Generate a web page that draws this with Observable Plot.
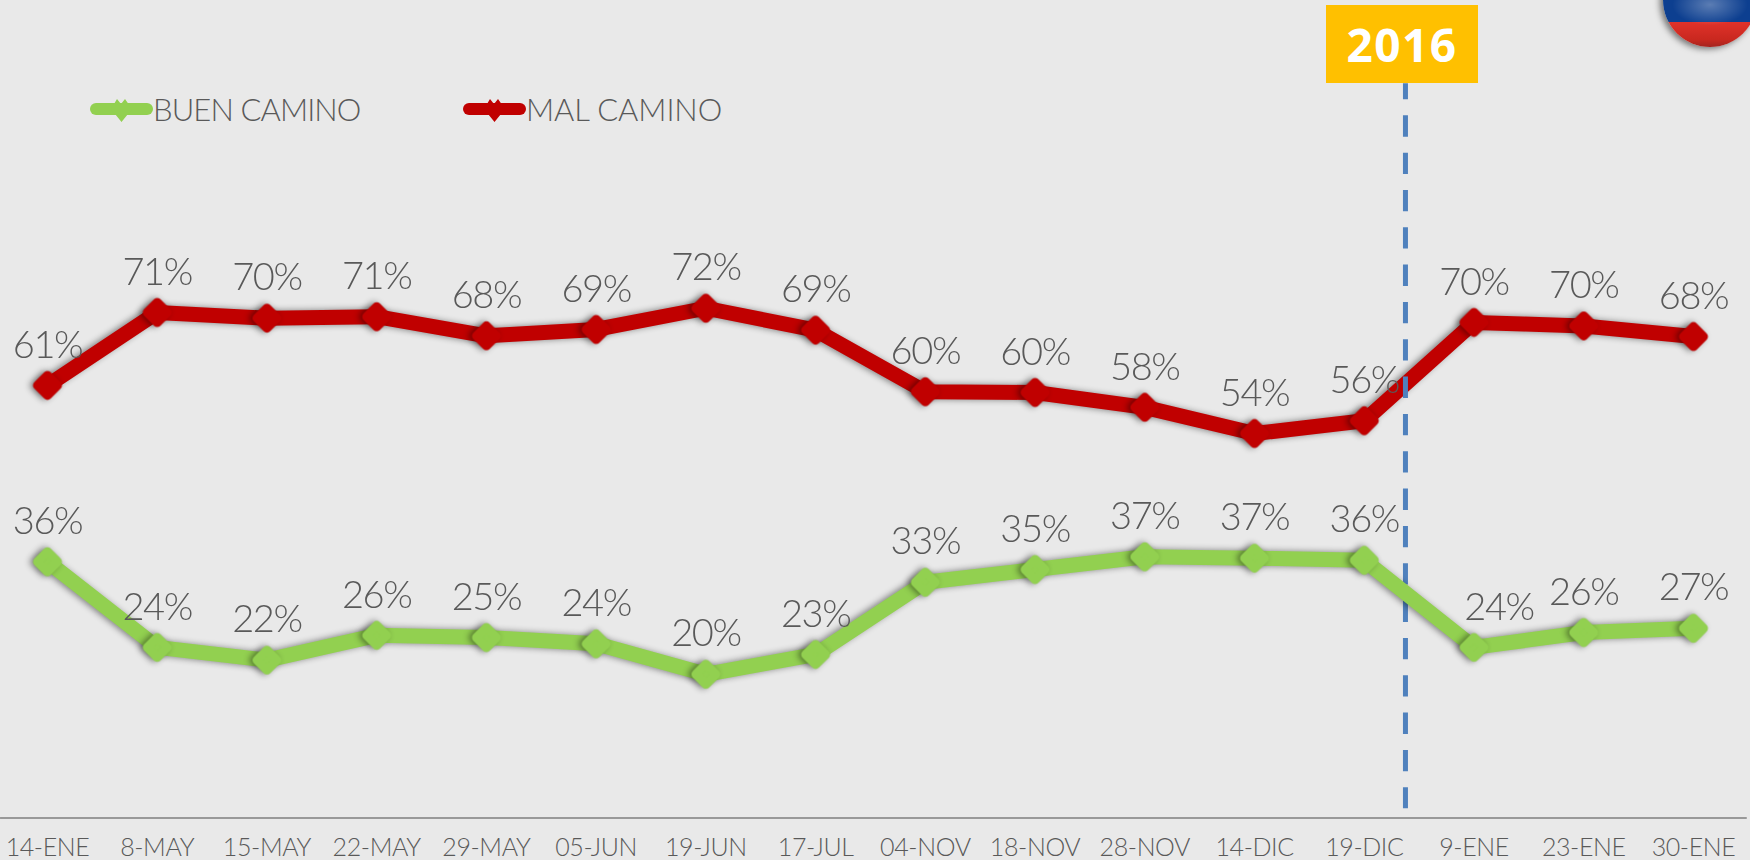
<!DOCTYPE html>
<html><head><meta charset="utf-8">
<script src="https://cdn.jsdelivr.net/npm/d3@7"></script>
<script src="https://cdn.jsdelivr.net/npm/@observablehq/plot@0.6"></script>
<style>
html,body{margin:0;padding:0;background:#e9e9e9;width:1750px;height:860px;overflow:hidden}
#wrap{position:relative;width:1750px;height:860px}
#wrap svg.sw{display:block}
#wrap>svg{position:absolute;left:0;top:0;background:transparent;font-family:Lato}
g[aria-label="line"],g[aria-label="dot"]{filter:drop-shadow(-3px 0px 3px rgba(0,0,0,.45))}
g[aria-label="text"]{letter-spacing:-1.4px}
g[aria-label="x-axis tick label"]{letter-spacing:-.4px}
.leg{position:absolute;top:91px;height:36px;font:300 31px/36px Lato;color:#595959;white-space:nowrap}
.leg svg{position:absolute;left:-63px;top:0}
#badge{position:absolute;left:1326px;top:5px;width:152px;height:78px;background:#ffc000;color:#fff;font:700 46px/78px "Open Sans";letter-spacing:1.5px;text-align:center}
#flag{position:absolute;left:1663px;top:-47px;width:94px;height:94px;border-radius:50%;overflow:hidden;box-shadow:-3px 2px 6px rgba(0,0,0,.5)}
</style></head><body>
<div id="wrap"></div>
<script>
const fechas = ["14-ENE","8-MAY","15-MAY","22-MAY","29-MAY","05-JUN","19-JUN","17-JUL","04-NOV","18-NOV","28-NOV","14-DIC","19-DIC","9-ENE","23-ENE","30-ENE"];
const malCamino = [61.1,71.4,70.6,70.8,68.1,69.0,72.0,68.9,60.2,60.1,58.0,54.3,56.1,70.0,69.5,68.0];
const buenCamino = [36.2,24.1,22.3,25.8,25.5,24.6,20.3,23.1,33.3,35.1,36.9,36.7,36.4,24.1,26.2,26.8];
const malEtiquetas = [61,71,70,71,68,69,72,69,60,60,58,54,56,70,70,68];
const buenEtiquetas = [36,24,22,26,25,24,20,23,33,35,37,37,36,24,26,27];
const VERDE = "#92d050", ROJO = "#c00000", GRIS = "#595959";

const rows = (vals, labs) => vals.map((v,i)=>({i, v, lab: labs[i]+"%"}));
const mal = rows(malCamino, malEtiquetas), buen = rows(buenCamino, buenEtiquetas);
const idx = d3.range(fechas.length);
const serie = (data,color) => [
  Plot.line(data,{x:"i",y:"v",stroke:color,strokeWidth:15,strokeLinejoin:"round"}),
  Plot.dot(data,{x:"i",y:"v",symbol:"diamond2",r:9,fill:color,stroke:color,strokeWidth:9,strokeLinejoin:"round"})
];
const etq = {x:"i",y:"v",text:"lab",dy:-40,fontSize:38,fontWeight:300,fill:GRIS,fontFamily:"Lato"};

const chart = Plot.plot({
  width:1750,height:860,margin:0,
  x:{type:"linear",domain:[0,15],range:[47,1693],axis:null},
  y:{domain:[0,100],range:[817.5,109.5],axis:null},
  marks:[
    Plot.ruleY([0],{x1:-0.428,x2:15.49,stroke:"#999",strokeWidth:2}),
    ...serie(mal,ROJO),
    Plot.ruleX([12.375],{y1:103.7,y2:1.3,stroke:"#4f81bd",strokeWidth:5,strokeDasharray:"21.33,16",strokeDashoffset:5.33}),
    ...serie(buen,VERDE),
    Plot.text(mal,etq),
    Plot.text(buen.filter(d=>d.i!==13),etq),
    Plot.text(buen.filter(d=>d.i===13),{...etq,dx:25}),
    Plot.axisX({ticks:idx,tickFormat:i=>fechas[i],tickSize:0,tickPadding:20,fontSize:25,fontWeight:300,fill:GRIS,anchor:"bottom",label:null,y:0,fontFamily:"Lato"})
  ]
});
const wrap = document.getElementById("wrap");
wrap.appendChild(chart);
const legend = (txt,color,left,sp)=>{
  const d=document.createElement("div");d.className="leg";d.style.left=left+"px";d.style.letterSpacing=sp;
  d.innerHTML=`<svg class="sw" width="63" height="36"><rect x="0" y="12" width="63" height="12" rx="6" fill="${color}"/><path d="M21 18 L27 8 L31 13 L35 8 L42 18 L31.5 31 Z" fill="${color}"/></svg>${txt}`;
  wrap.appendChild(d);
};
legend("BUEN CAMINO",VERDE,153,"-.9px");
legend("MAL CAMINO",ROJO,526,"-.1px");
const b=document.createElement("div");b.id="badge";b.textContent="2016";wrap.appendChild(b);
const f=document.createElement("div");f.id="flag";
f.style.background="radial-gradient(ellipse 40% 22% at 50% 55%,rgba(255,255,255,.32),rgba(255,255,255,0)),radial-gradient(circle at 50% 50%,rgba(0,0,0,0) 78%,rgba(0,0,30,.35) 100%),linear-gradient(#0d3f90 0,#0d3f90 73.5%,#e0322a 73.5%,#c9281f 92%,#a32420 100%)";
wrap.appendChild(f);
</script>
</body></html>
